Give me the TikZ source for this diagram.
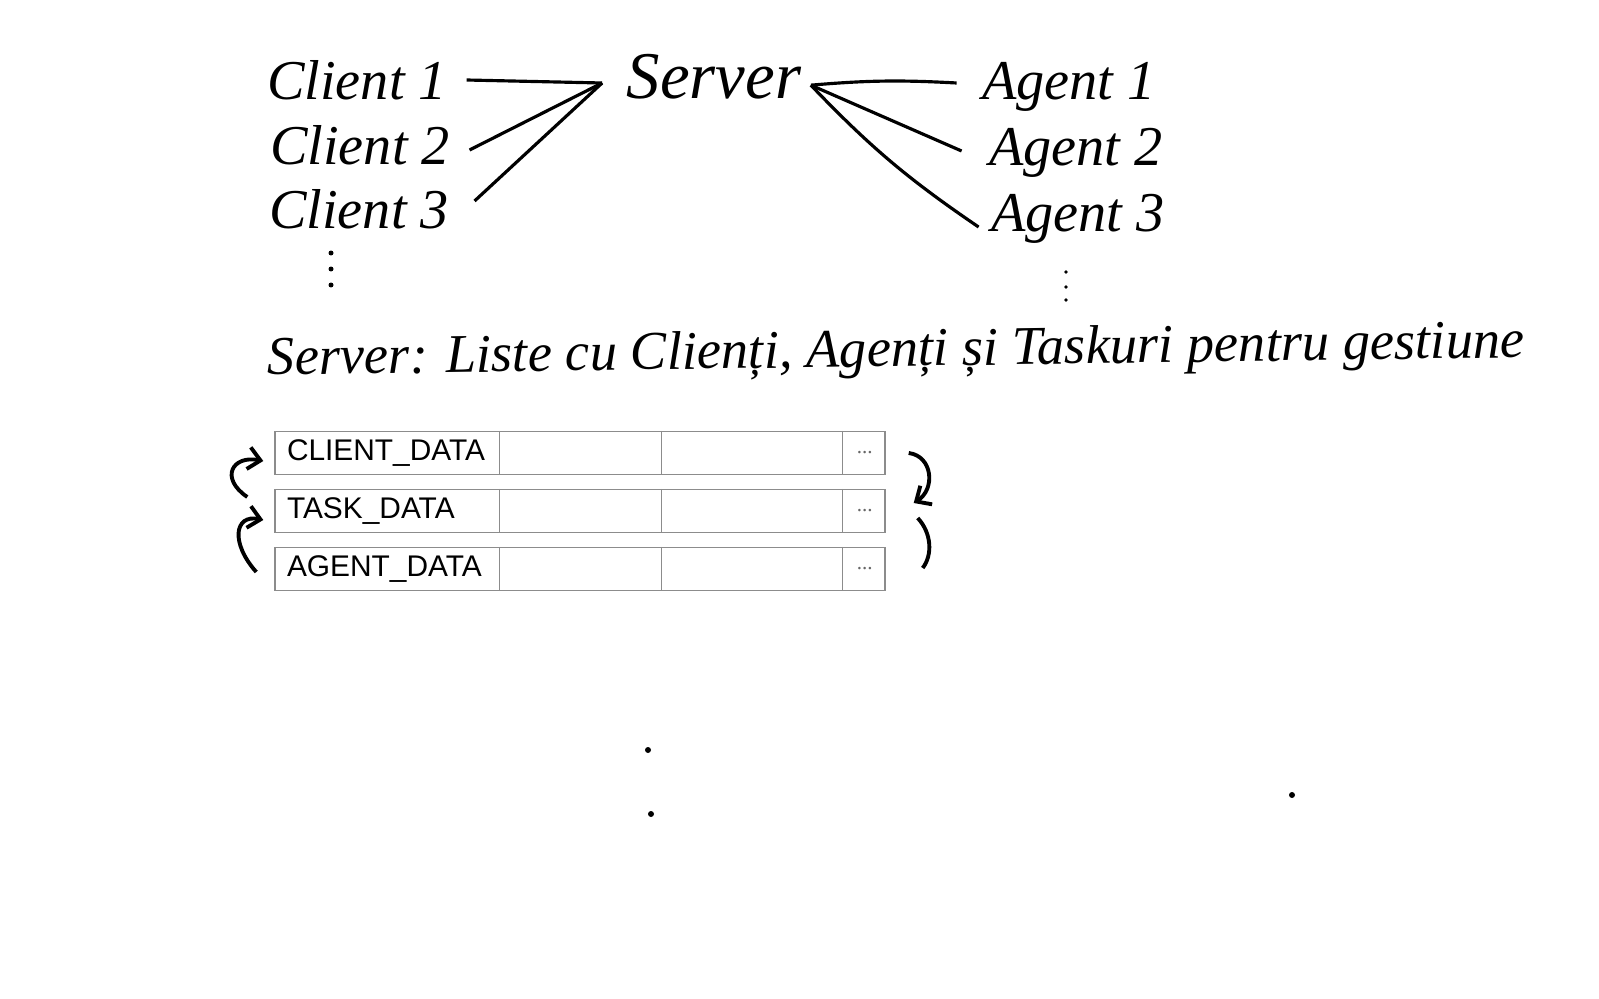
\documentclass[tikz,border=0pt]{standalone}
\usepackage{fontspec}
\setmainfont{Liberation Serif}
\setsansfont{Liberation Sans}
\usetikzlibrary{arrows.meta, calc}

\begin{document}
\begin{tikzpicture}[
    hand/.style={font=\fontsize{16}{18}\selectfont\itshape, inner sep=2pt},
    row/.style={rectangle, draw=black!45, line width=0.4pt, minimum width=6.1cm, minimum height=0.43cm, inner sep=0pt},
    field/.style={font=\sffamily\fontsize{8.5}{10}\selectfont, anchor=west, inner sep=0pt},
    more/.style={font=\fontsize{6}{7}\selectfont, text=black!60, inner sep=0pt},
    cell/.style={draw=black!45, line width=0.4pt},
    wire/.style={line width=0.9pt},
    link/.style={line width=1.1pt, -{Straight Barb[length=1.2mm, width=2.2mm]}}
]
    \useasboundingbox (0,0) rectangle (15.99,-9.99);

    % --- Clients ---
    \node[hand] (c1) at (3.57,-0.80) {Client 1};
    \node[hand] (c2) at (3.60,-1.45) {Client 2};
    \node[hand] (c3) at (3.59,-2.09) {Client 3};
    \foreach \y in {-2.53,-2.69,-2.85}
        \fill (3.31,\y) circle (0.025);

    % --- Server ---
    \node[hand, font=\fontsize{19}{21}\selectfont\itshape] (srv) at (7.14,-0.77) {Server};
    \coordinate (srvin) at ($(srv.west)+(-0.17,-0.06)$);
    \coordinate (srvout) at ($(srv.south east)+(0.02,0.22)$);

    % --- Agents ---
    \node[hand] (a1) at (10.69,-0.87) {Agent 1};
    \node[hand] (a2) at (10.76,-1.53) {Agent 2};
    \node[hand] (a3) at (10.78,-2.19) {Agent 3};
    \foreach \y in {-2.72,-2.87,-3.00}
        \fill (10.66,\y) circle (0.018);

    % --- Connections ---
    \draw[wire] ($(c1.east)+(0.12,0)$) -- (srvin);
    \draw[wire] ($(c2.east)+(0.12,-0.05)$) -- (srvin);
    \draw[wire] ($(c3.east)+(0.18,0.08)$) -- (srvin);
    \draw[wire] (srvout) to[bend left=4] ($(a1.west)+(-0.18,0.04)$);
    \draw[wire] (srvout) -- ($(a2.west)+(-0.2,0.02)$);
    \draw[wire] (srvout) to[bend right=6] ($(a3.west)+(-0.05,-0.08)$);

    % --- Caption ---
    \node[hand, font=\fontsize{15.5}{18}\selectfont\itshape, anchor=west, rotate=0.8] (note) at (2.60,-3.62)
        {Server: Liste cu Clienți, Agenți și Taskuri pentru gestiune};

    % --- Tables ---
    \node[row] (crow) at (5.80,-4.53) {};
    \node[row] (trow) at (5.80,-5.11) {};
    \node[row] (arow) at (5.80,-5.69) {};
    \foreach \r in {crow,trow,arow} {
        \foreach \x in {2.25,3.87,5.68}
            \draw[cell] ($(\r.north west)+(\x,0)$) -- ($(\r.south west)+(\x,0)$);
        \node[more] at ($(\r.east)+(-0.21,0)$) {...};
    }
    \node[field] (clbl) at ($(crow.west)+(0.12,0)$) {CLIENT\_DATA};
    \node[field] (tlbl) at ($(trow.west)+(0.12,0)$) {TASK\_DATA};
    \node[field] (albl) at ($(arow.west)+(0.12,0)$) {AGENT\_DATA};

    % --- Links between lists ---
    \draw[link] ($(trow.west)+(-0.27,0.14)$)
        .. controls ($(trow.west)+(-0.55,0.33)$) and ($(crow.west)+(-0.42,-0.02)$) .. ($(crow.west)+(-0.11,-0.08)$);
    \draw[link] ($(arow.west)+(-0.18,-0.03)$)
        .. controls ($(arow.west)+(-0.44,0.26)$) and ($(trow.west)+(-0.40,-0.03)$) .. ($(trow.west)+(-0.11,-0.09)$);
    \draw[link] ($(crow.east)+(0.23,0)$)
        .. controls ($(crow.east)+(0.47,-0.03)$) and ($(trow.east)+(0.50,0.22)$) .. ($(trow.east)+(0.28,0.08)$);
    \draw[wire, line width=1.1pt] ($(trow.east)+(0.32,-0.07)$)
        .. controls ($(trow.east)+(0.46,-0.22)$) and ($(arow.east)+(0.47,0.14)$) .. ($(arow.east)+(0.37,0.01)$);

    % --- Stray dots ---
    \fill (6.48,-7.50) circle (0.03);
    \fill (6.51,-8.14) circle (0.03);
    \fill (12.92,-7.95) circle (0.03);

\end{tikzpicture}
\end{document}
